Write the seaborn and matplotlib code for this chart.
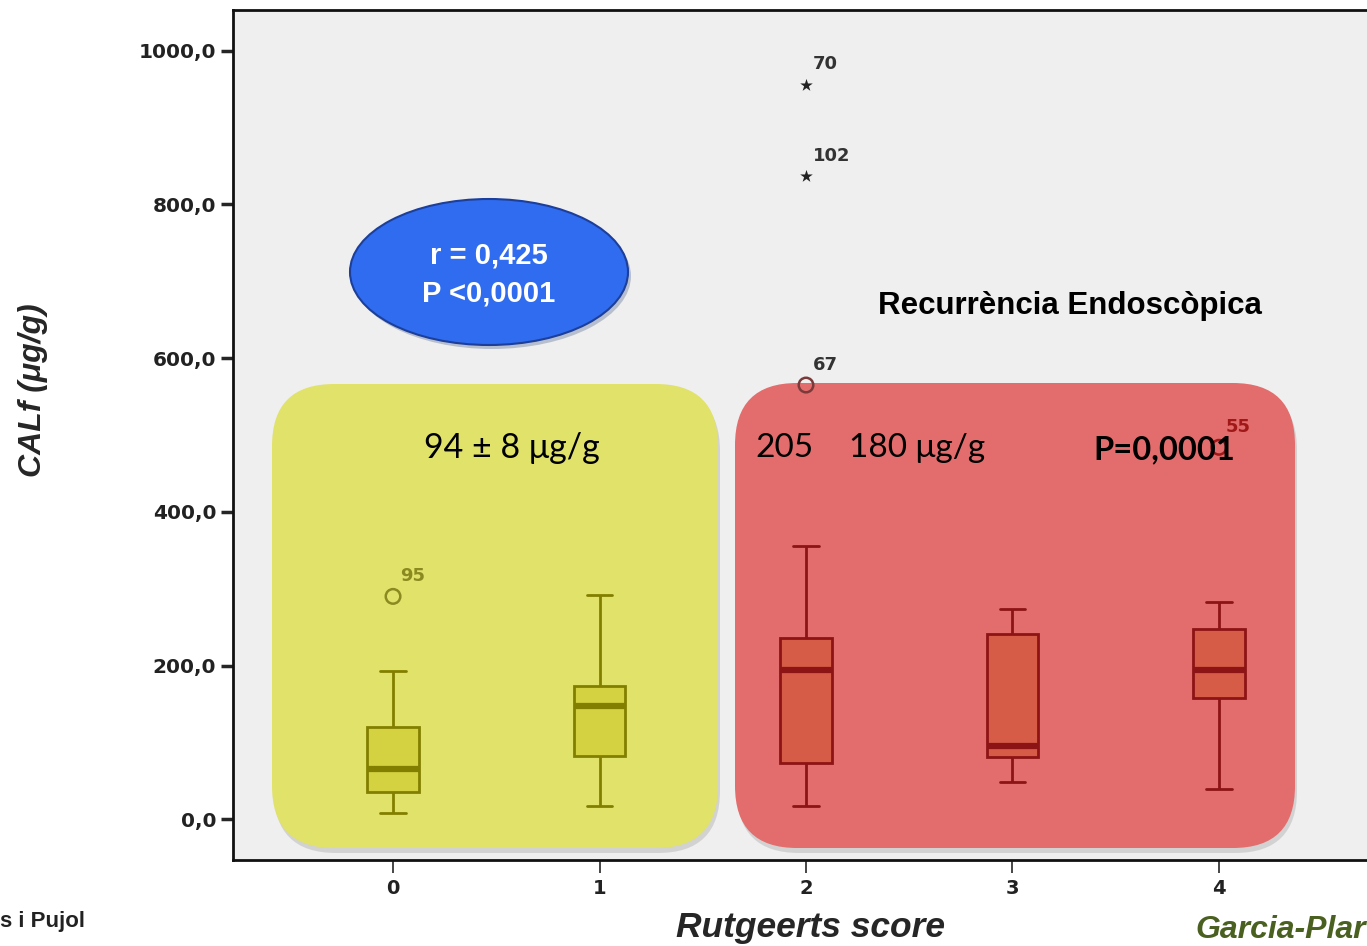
import numpy as np
import pandas as pd
import matplotlib
matplotlib.use('Agg')
import matplotlib.pyplot as plt
import seaborn as sns
from matplotlib.patches import FancyBboxPatch, Ellipse
from matplotlib.transforms import IdentityTransform
from matplotlib.ticker import FuncFormatter

# Rutgeerts score groups and CALf five-number summaries (ug/g)
score = [0, 1, 2, 3, 4]
calf_min = [8, 17, 17, 48, 40]
calf_q1 = [35, 82, 73, 81, 158]
calf_median = [66, 148, 194, 95, 194]
calf_q3 = [120, 173, 236, 241, 247]
calf_max = [193, 292, 355, 273, 283]

# outlying cases
out_score = [0, 2, 2, 2, 4]
out_calf = [290, 565, 837, 956, 484]
out_case = ['95', '67', '102', '70', '55']
out_marker = ['o', 'o', '*', '*', 'o']

rows = []
for i, s in enumerate(score):
    for v in [calf_min[i], calf_q1[i], calf_median[i], calf_q3[i], calf_max[i]]:
        rows.append({'score': s, 'calf': v})
df = pd.DataFrame(rows)

sns.set_theme(style='ticks')
plt.rcParams['font.family'] = ['DejaVu Sans']

W, H = 1367, 946
fig = plt.figure(figsize=(W / 100, H / 100), dpi=100)
fig.patch.set_facecolor('white')
ax = fig.add_axes([233 / W, 86 / H, 1146 / W, 850 / H])
ax.set_facecolor('#efefef')

ident = IdentityTransform()

def region(x0, y0, x1, y1, color):
    # pixel coords of the image (y from top)
    sh = FancyBboxPatch((x0 + 2, H - y1 - 5), x1 - x0, y1 - y0,
                        boxstyle='round,pad=0,rounding_size=62',
                        transform=ident, facecolor='#b0b0b0', edgecolor='none',
                        alpha=0.45, zorder=0.4)
    ax.add_patch(sh)
    p = FancyBboxPatch((x0, H - y1), x1 - x0, y1 - y0,
                       boxstyle='round,pad=0,rounding_size=62',
                       transform=ident, facecolor=color, edgecolor='none', zorder=0.5)
    ax.add_patch(p)

region(272, 384, 718, 848, '#e1e26a')
region(735, 383, 1295, 848, '#e36c6c')

groups = [
    (df[df['score'] <= 1], '#d4d240', '#827f00'),
    (df[df['score'] >= 2], '#d65c48', '#8c1414'),
]
for sub, fc, lc in groups:
    sns.boxplot(data=sub, x='score', y='calf', native_scale=True, width=0.25,
                whis=(0, 100), showfliers=False, color=fc, linecolor=lc,
                saturation=1, linewidth=2, ax=ax,
                medianprops=dict(linewidth=4.5, color=lc),
                capprops=dict(linewidth=2, color=lc),
                whiskerprops=dict(linewidth=2, color=lc))
for a in ax.collections + ax.lines + ax.patches[4:]:
    a.set_zorder(2)

out_col = {0: '#8a8a20', 2: '#7a3a3a', 4: '#a01818'}
lab_col = {0: '#8a8a20', 2: '#333333', 4: '#a01818'}
for s, v, c, m in zip(out_score, out_calf, out_case, out_marker):
    if m == 'o':
        ax.scatter([s], [v], marker='o', s=110, facecolors='none',
                   edgecolors=out_col[s], linewidths=1.8, zorder=3)
    else:
        ax.scatter([s], [v], marker='*', s=90, color='#222222', linewidths=0, zorder=3)
    ax.annotate(c, (s, v), xytext=(5, 8), textcoords='offset points',
                ha='left', va='bottom', fontsize=13, fontweight='bold',
                color=lab_col[s], zorder=4)

ax.set_xlim(-0.775, 4.775)
ax.set_ylim(-53, 1053)
ax.set_xticks(score)
ax.set_yticks([0, 200, 400, 600, 800, 1000])
ax.yaxis.set_major_formatter(FuncFormatter(lambda v, p: f'{v:.1f}'.replace('.', ',')))
ax.tick_params(axis='y', length=9, width=2.5, labelsize=14.5, pad=3)
ax.tick_params(axis='x', length=9, width=1.2, labelsize=14, pad=5)
for lab in ax.get_yticklabels() + ax.get_xticklabels():
    lab.set_fontweight('bold')
    lab.set_color('#222222')
for sp in ax.spines.values():
    sp.set_visible(True)
    sp.set_linewidth(2)
    sp.set_color('#111111')
ax.set_xlabel('')
ax.set_ylabel('')

# blue ellipse with correlation
ell = Ellipse((492, H - 276), 278, 146, transform=ident, facecolor='#8090b0',
              edgecolor='none', alpha=0.5, zorder=4)
ax.add_patch(ell)
ell = Ellipse((489, H - 272), 278, 146, transform=ident, facecolor='#2f6cf0',
              edgecolor='#1d3f9a', linewidth=1.5, zorder=5)
ax.add_patch(ell)

lib = ['Liberation Sans', 'DejaVu Sans']
fig.text(489 / W, 1 - 256 / H, 'r = 0,425', ha='center', va='center', color='white',
         fontsize=21, fontweight='bold', family=lib, zorder=6)
fig.text(489 / W, 1 - 293 / H, 'P <0,0001', ha='center', va='center', color='white',
         fontsize=21, fontweight='bold', family=lib, zorder=6)

fig.text(1070 / W, 1 - 306 / H, 'Recurrència Endoscòpica', ha='center', va='center',
         fontsize=22.5, fontweight='bold', family=lib, color='black')

reg = ['Lato', 'DejaVu Sans']
fig.text(512 / W, 1 - 448 / H, '94 ± 8 μg/g', ha='center', va='center',
         fontsize=24.5, family=reg, color='black')
fig.text(755 / W, 1 - 448 / H, '205', ha='left', va='center',
         fontsize=24, family=reg, color='black')
fig.text(849 / W, 1 - 448 / H, '180 μg/g', ha='left', va='center',
         fontsize=24, family=reg, color='black')
fig.text(1093 / W, 1 - 450 / H, 'P=0,0001', ha='left', va='center',
         fontsize=23.5, fontweight='bold', family=reg, color='black')

fig.text(811 / W, 1 - 927 / H, 'Rutgeerts score', ha='center', va='center',
         fontsize=25.5, fontweight='bold', fontstyle='italic', family=lib)
fig.text(33 / W, 1 - 390 / H, 'CALf (μg/g)', ha='center', va='center', rotation=90,
         fontsize=23, fontweight='bold', fontstyle='italic', family=lib)
fig.text(0 / W, 1 - 921 / H, 's i Pujol', ha='left', va='center',
         fontsize=16, fontweight='bold', family=lib, color='#222222')
fig.text(1195 / W, 1 - 930 / H, 'Garcia-Plar', ha='left', va='center',
         fontsize=23, fontweight='bold', fontstyle='italic', family=lib, color='#4a6020')

fig.savefig('out.png', dpi=100)
